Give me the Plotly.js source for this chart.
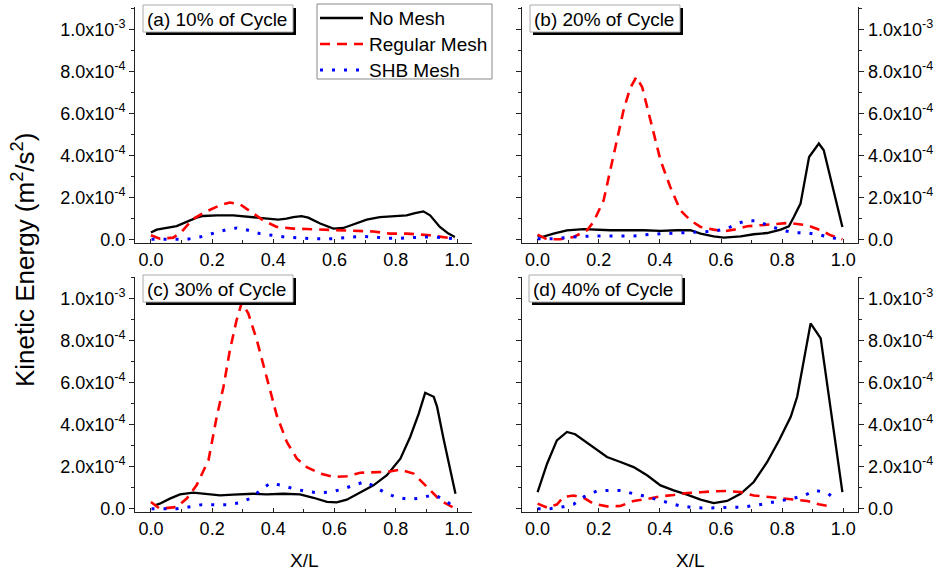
<!DOCTYPE html>
<html><head><meta charset="utf-8">
<script src="https://cdn.plot.ly/plotly-3.0.1.min.js"></script>
<style>html,body{margin:0;padding:0;background:#fff}#chart{width:937px;height:571px}</style>
</head><body><div id="chart"></div>
<script>
// ---------- labels ----------
const seriesNames = ['No Mesh', 'Regular Mesh', 'SHB Mesh'];
const panelLabels = ['(a) 10% of Cycle', '(b) 20% of Cycle', '(c) 30% of Cycle', '(d) 40% of Cycle'];
const yTickVals = [0, 2e-4, 4e-4, 6e-4, 8e-4, 1e-3];
const yTickText = ['0.0', '2.0x10<sup>-4</sup>', '4.0x10<sup>-4</sup>', '6.0x10<sup>-4</sup>', '8.0x10<sup>-4</sup>', '1.0x10<sup>-3</sup>'];
const yMinorVals = [1e-4, 3e-4, 5e-4, 7e-4, 9e-4, 1.1e-3];
const xTickVals = [0, 0.2, 0.4, 0.6, 0.8, 1.0];
const xTickText = ['0.0', '0.2', '0.4', '0.6', '0.8', '1.0'];
const xMinorVals = [0.1, 0.3, 0.5, 0.7, 0.9];
const xTitle = 'X/L';
const yTitle = 'Kinetic Energy (m<sup>2</sup>/s<sup>2</sup>)';

// ---------- panel (a) 10% ----------
const aNoMeshX = [0.0, 0.019, 0.084, 0.117, 0.149, 0.171, 0.215, 0.269, 0.334, 0.378, 0.416, 0.443, 0.465, 0.492, 0.514, 0.553, 0.596, 0.629, 0.661, 0.705, 0.748, 0.792, 0.835, 0.863, 0.890, 0.912, 0.944, 0.972, 0.993];
const aNoMeshY = [0.32e-4, 0.46e-4, 0.63e-4, 0.83e-4, 1.03e-4, 1.11e-4, 1.14e-4, 1.14e-4, 1.06e-4, 0.98e-4, 0.94e-4, 0.98e-4, 1.06e-4, 1.10e-4, 1.03e-4, 0.75e-4, 0.51e-4, 0.54e-4, 0.71e-4, 0.94e-4, 1.06e-4, 1.10e-4, 1.14e-4, 1.25e-4, 1.33e-4, 1.14e-4, 0.59e-4, 0.27e-4, 0.11e-4];
const aRegularX = [0.0, 0.029, 0.073, 0.1, 0.138, 0.182, 0.225, 0.258, 0.291, 0.324, 0.367, 0.411, 0.465, 0.509, 0.596, 0.661, 0.727, 0.781, 0.836, 0.912, 0.955, 0.993];
const aRegularY = [0.19e-4, 0.03e-4, 0.08e-4, 0.35e-4, 0.98e-4, 1.33e-4, 1.62e-4, 1.75e-4, 1.67e-4, 1.35e-4, 0.90e-4, 0.59e-4, 0.51e-4, 0.49e-4, 0.43e-4, 0.40e-4, 0.37e-4, 0.27e-4, 0.27e-4, 0.19e-4, 0.11e-4, 0.03e-4];
const aShbX = [0.002, 0.051, 0.117, 0.16, 0.204, 0.247, 0.28, 0.318, 0.356, 0.4, 0.443, 0.52, 0.596, 0.65, 0.688, 0.727, 0.77, 0.814, 0.89, 0.934, 0.993];
const aShbY = [0.0, 0.0, 0.0, 0.11e-4, 0.27e-4, 0.46e-4, 0.54e-4, 0.43e-4, 0.27e-4, 0.17e-4, 0.10e-4, 0.03e-4, 0.03e-4, 0.10e-4, 0.14e-4, 0.11e-4, 0.05e-4, 0.05e-4, 0.11e-4, 0.10e-4, 0.02e-4];

// ---------- panel (b) 20% ----------
const bNoMeshX = [0.0, 0.014, 0.052, 0.096, 0.151, 0.238, 0.347, 0.402, 0.456, 0.5, 0.533, 0.576, 0.609, 0.664, 0.707, 0.751, 0.795, 0.822, 0.838, 0.86, 0.888, 0.92, 0.936, 0.964, 0.997];
const bNoMeshY = [0.19e-4, 0.11e-4, 0.27e-4, 0.43e-4, 0.48e-4, 0.43e-4, 0.43e-4, 0.40e-4, 0.43e-4, 0.43e-4, 0.27e-4, 0.14e-4, 0.08e-4, 0.14e-4, 0.24e-4, 0.30e-4, 0.46e-4, 0.62e-4, 1.06e-4, 1.70e-4, 3.92e-4, 4.56e-4, 4.24e-4, 2.5e-4, 0.59e-4];
const bRegularX = [0.0, 0.031, 0.074, 0.118, 0.162, 0.183, 0.216, 0.249, 0.282, 0.303, 0.323, 0.342, 0.374, 0.402, 0.434, 0.467, 0.5, 0.533, 0.576, 0.609, 0.642, 0.686, 0.729, 0.773, 0.822, 0.882, 0.926, 0.959, 0.997];
const bRegularY = [0.22e-4, 0.0, 0.0, 0.11e-4, 0.43e-4, 0.83e-4, 1.86e-4, 4.1e-4, 6.2e-4, 7.2e-4, 7.73e-4, 7.25e-4, 5.35e-4, 3.76e-4, 2.49e-4, 1.38e-4, 0.90e-4, 0.59e-4, 0.46e-4, 0.38e-4, 0.46e-4, 0.62e-4, 0.67e-4, 0.71e-4, 0.78e-4, 0.67e-4, 0.43e-4, 0.19e-4, 0.0];
const bShbX = [0.0, 0.052, 0.118, 0.183, 0.249, 0.314, 0.369, 0.424, 0.489, 0.544, 0.576, 0.62, 0.653, 0.686, 0.718, 0.762, 0.8, 0.838, 0.882, 0.92, 0.959, 0.997];
const bShbY = [0.03e-4, 0.03e-4, 0.11e-4, 0.16e-4, 0.16e-4, 0.16e-4, 0.24e-4, 0.27e-4, 0.30e-4, 0.35e-4, 0.38e-4, 0.51e-4, 0.75e-4, 0.90e-4, 0.87e-4, 0.62e-4, 0.43e-4, 0.32e-4, 0.30e-4, 0.22e-4, 0.08e-4, 0.0];

// ---------- panel (c) 30% ----------
const cNoMeshX = [0.013, 0.029, 0.062, 0.095, 0.138, 0.182, 0.226, 0.269, 0.335, 0.378, 0.433, 0.487, 0.531, 0.575, 0.607, 0.64, 0.684, 0.727, 0.771, 0.815, 0.847, 0.875, 0.896, 0.924, 0.935, 0.956, 0.995];
const cNoMeshY = [0.16e-4, 0.24e-4, 0.48e-4, 0.68e-4, 0.76e-4, 0.71e-4, 0.63e-4, 0.67e-4, 0.71e-4, 0.68e-4, 0.71e-4, 0.68e-4, 0.52e-4, 0.32e-4, 0.30e-4, 0.43e-4, 0.79e-4, 1.11e-4, 1.59e-4, 2.38e-4, 3.41e-4, 4.52e-4, 5.51e-4, 5.32e-4, 4.84e-4, 3.33e-4, 0.71e-4];
const cRegularX = [0.0, 0.029, 0.084, 0.117, 0.149, 0.188, 0.215, 0.237, 0.258, 0.28, 0.297, 0.318, 0.346, 0.378, 0.411, 0.444, 0.477, 0.509, 0.553, 0.597, 0.64, 0.684, 0.727, 0.771, 0.815, 0.858, 0.902, 0.945, 0.995];
const cRegularY = [0.32e-4, 0.0, 0.08e-4, 0.48e-4, 1.11e-4, 2.30e-4, 4.37e-4, 5.79e-4, 7.54e-4, 8.97e-4, 9.8e-4, 9.29e-4, 8.02e-4, 6.27e-4, 4.44e-4, 3.17e-4, 2.38e-4, 1.98e-4, 1.67e-4, 1.51e-4, 1.54e-4, 1.71e-4, 1.73e-4, 1.75e-4, 1.86e-4, 1.67e-4, 1.03e-4, 0.40e-4, 0.0];
const cShbX = [0.002, 0.046, 0.084, 0.122, 0.166, 0.204, 0.248, 0.286, 0.324, 0.357, 0.39, 0.428, 0.466, 0.504, 0.542, 0.586, 0.624, 0.662, 0.7, 0.733, 0.771, 0.809, 0.847, 0.885, 0.924, 0.962, 0.989];
const cShbY = [0.0, 0.0, 0.0, 0.08e-4, 0.19e-4, 0.19e-4, 0.19e-4, 0.27e-4, 0.48e-4, 0.87e-4, 1.22e-4, 1.11e-4, 0.95e-4, 0.83e-4, 0.76e-4, 0.79e-4, 0.92e-4, 1.11e-4, 1.29e-4, 1.03e-4, 0.71e-4, 0.52e-4, 0.44e-4, 0.52e-4, 0.67e-4, 0.40e-4, 0.08e-4];

// ---------- panel (d) 40% ----------
const dNoMeshX = [0.0, 0.031, 0.063, 0.096, 0.123, 0.162, 0.194, 0.227, 0.271, 0.314, 0.358, 0.402, 0.445, 0.489, 0.533, 0.576, 0.62, 0.664, 0.707, 0.751, 0.79, 0.828, 0.849, 0.871, 0.893, 0.926, 0.997];
const dNoMeshY = [0.79e-4, 2.14e-4, 3.25e-4, 3.65e-4, 3.54e-4, 3.13e-4, 2.78e-4, 2.46e-4, 2.22e-4, 1.98e-4, 1.59e-4, 1.11e-4, 0.87e-4, 0.67e-4, 0.43e-4, 0.27e-4, 0.37e-4, 0.71e-4, 1.27e-4, 2.22e-4, 3.25e-4, 4.37e-4, 5.32e-4, 7.06e-4, 8.81e-4, 8.10e-4, 0.79e-4];
const dRegularX = [0.0, 0.031, 0.063, 0.085, 0.118, 0.151, 0.183, 0.227, 0.271, 0.314, 0.358, 0.402, 0.445, 0.489, 0.533, 0.576, 0.62, 0.664, 0.707, 0.751, 0.795, 0.838, 0.882, 0.92, 0.959];
const dRegularY = [0.24e-4, 0.05e-4, 0.20e-4, 0.56e-4, 0.63e-4, 0.52e-4, 0.24e-4, 0.11e-4, 0.13e-4, 0.37e-4, 0.46e-4, 0.59e-4, 0.65e-4, 0.75e-4, 0.78e-4, 0.83e-4, 0.84e-4, 0.79e-4, 0.63e-4, 0.56e-4, 0.48e-4, 0.43e-4, 0.37e-4, 0.21e-4, 0.11e-4];
const dShbX = [0.0, 0.041, 0.08, 0.118, 0.151, 0.194, 0.233, 0.271, 0.314, 0.353, 0.391, 0.429, 0.467, 0.511, 0.555, 0.593, 0.631, 0.675, 0.713, 0.751, 0.795, 0.834, 0.871, 0.909, 0.948, 0.975];
const dShbY = [0.0, 0.0, 0.08e-4, 0.21e-4, 0.56e-4, 0.84e-4, 0.87e-4, 0.87e-4, 0.71e-4, 0.59e-4, 0.43e-4, 0.29e-4, 0.13e-4, 0.05e-4, 0.03e-4, 0.05e-4, 0.05e-4, 0.08e-4, 0.16e-4, 0.27e-4, 0.40e-4, 0.48e-4, 0.63e-4, 0.87e-4, 0.75e-4, 0.43e-4];

// ---------- styling ----------
const FONT = 'Liberation Sans, Arial, sans-serif';
const lineStyles = [
  {color: '#000000', width: 2.3, dash: 'solid'},
  {color: '#ff0000', width: 2.6, dash: '10px,7px'},
  {color: '#0000ff', width: 3, dash: '3px,9px'}
];
const panels = [
  {xs: [aNoMeshX, aRegularX, aShbX], ys: [aNoMeshY, aRegularY, aShbY], xa: 'x', ya: 'y'},
  {xs: [bNoMeshX, bRegularX, bShbX], ys: [bNoMeshY, bRegularY, bShbY], xa: 'x2', ya: 'y2'},
  {xs: [cNoMeshX, cRegularX, cShbX], ys: [cNoMeshY, cRegularY, cShbY], xa: 'x3', ya: 'y3'},
  {xs: [dNoMeshX, dRegularX, dShbX], ys: [dNoMeshY, dRegularY, dShbY], xa: 'x4', ya: 'y4'}
];
const traces = [];
panels.forEach((p, pi) => {
  [0, 1, 2].forEach(si => {
    traces.push({
      type: 'scatter', mode: 'lines', x: p.xs[si], y: p.ys[si],
      xaxis: p.xa, yaxis: p.ya, name: seriesNames[si], legendgroup: seriesNames[si],
      showlegend: false, line: lineStyles[si], hoverinfo: 'skip'
    });
  });
});

const W = 937, H = 571;
const px = v => v / W, py = v => 1 - v / H;
const domL = [px(135), px(472)], domR = [px(521.7), px(858.3)];
const domT = [py(243), py(7)], domB = [py(512.3), py(276.7)];
const axColor = '#222';

function xAxis(domain, anchor) {
  return {
    domain: domain, anchor: anchor, range: [-0.052, 1.049],
    showline: true, linecolor: axColor, linewidth: 1, zeroline: false, showgrid: false,
    ticks: 'inside', ticklen: 4, tickcolor: axColor, tickvals: xTickVals, ticktext: xTickText,
    tickfont: {family: FONT, size: 18, color: '#000'},
    minor: {tickvals: xMinorVals, ticks: 'inside', ticklen: 3, tickcolor: axColor, showgrid: false}
  };
}
function yAxis(domain, anchor, range, right) {
  return {
    domain: domain, anchor: anchor, range: range, side: right ? 'right' : 'left',
    mirror: right ? 'ticks' : false,
    showline: true, linecolor: axColor, linewidth: 1, zeroline: false, showgrid: false,
    ticks: 'outside', ticklen: 5, tickcolor: axColor, tickvals: yTickVals, ticktext: yTickText,
    tickfont: {family: FONT, size: 18, color: '#000'},
    minor: {tickvals: yMinorVals, ticks: 'outside', ticklen: 3, tickcolor: axColor, showgrid: false}
  };
}
const rangeTop = [-1.76e-5, 1.106e-3];
const rangeBot = [-1.71e-5, 1.103e-3];

// panel label boxes (with drop shadow) and legend box, drawn as paper shapes
const shapes = [];
const annotations = [];
function panelLabel(text, x0, y0, x1, y1) {
  shapes.push({type: 'rect', xref: 'paper', yref: 'paper', x0: px(x0 + 3), x1: px(x1 + 3), y0: py(y1 + 3), y1: py(y0 + 3),
               fillcolor: '#000', line: {width: 0}, layer: 'above'});
  shapes.push({type: 'rect', xref: 'paper', yref: 'paper', x0: px(x0), x1: px(x1), y0: py(y1), y1: py(y0),
               fillcolor: '#fff', line: {color: '#aaa', width: 1}, layer: 'above'});
  annotations.push({xref: 'paper', yref: 'paper', x: px(x0 + 2), y: py((y0 + y1) / 2 + 0.5), xanchor: 'left', yanchor: 'middle',
                    text: text, showarrow: false, font: {family: FONT, size: 19, color: '#000'}});
}
panelLabel(panelLabels[0], 143, 5, 293, 32);
panelLabel(panelLabels[1], 530, 5, 680, 32);
panelLabel(panelLabels[2], 143, 275, 293, 302);
panelLabel(panelLabels[3], 529, 275, 682, 302);

// legend
shapes.push({type: 'rect', xref: 'paper', yref: 'paper', x0: px(317), x1: px(492), y0: py(79), y1: py(4),
             fillcolor: '#fff', line: {color: '#888', width: 1}, layer: 'above'});
const legendRows = [18, 44, 70];
seriesNames.forEach((name, i) => {
  shapes.push({type: 'line', xref: 'paper', yref: 'paper', x0: px(320), x1: px(363), y0: py(legendRows[i]), y1: py(legendRows[i]),
               line: lineStyles[i], layer: 'above'});
  annotations.push({xref: 'paper', yref: 'paper', x: px(367), y: py(legendRows[i] + 0.5), xanchor: 'left', yanchor: 'middle',
                    text: name, showarrow: false, font: {family: FONT, size: 19, color: '#000'}});
});

annotations.push(
  {xref: 'paper', yref: 'paper', x: px(24), y: py(260), xanchor: 'center', yanchor: 'middle',
   text: yTitle, textangle: -90, showarrow: false, font: {family: FONT, size: 26, color: '#000'}},
  {xref: 'paper', yref: 'paper', x: px(304), y: py(560), xanchor: 'center', yanchor: 'middle',
   text: xTitle, showarrow: false, font: {family: FONT, size: 19, color: '#000'}},
  {xref: 'paper', yref: 'paper', x: px(690), y: py(560), xanchor: 'center', yanchor: 'middle',
   text: xTitle, showarrow: false, font: {family: FONT, size: 19, color: '#000'}}
);

const layout = {
  width: W, height: H, margin: {l: 0, r: 0, t: 0, b: 0},
  paper_bgcolor: '#fff', plot_bgcolor: 'rgba(0,0,0,0)',
  font: {family: FONT, color: '#000'},
  showlegend: false,
  xaxis: xAxis(domL, 'y'), yaxis: yAxis(domT, 'x', rangeTop, false),
  xaxis2: xAxis(domR, 'y2'), yaxis2: yAxis(domT, 'x2', rangeTop, true),
  xaxis3: xAxis(domL, 'y3'), yaxis3: yAxis(domB, 'x3', rangeBot, false),
  xaxis4: xAxis(domR, 'y4'), yaxis4: yAxis(domB, 'x4', rangeBot, true),
  shapes: shapes,
  annotations: annotations
};

Plotly.newPlot('chart', traces, layout, {staticPlot: true, displayModeBar: false});
</script>
</body></html>
